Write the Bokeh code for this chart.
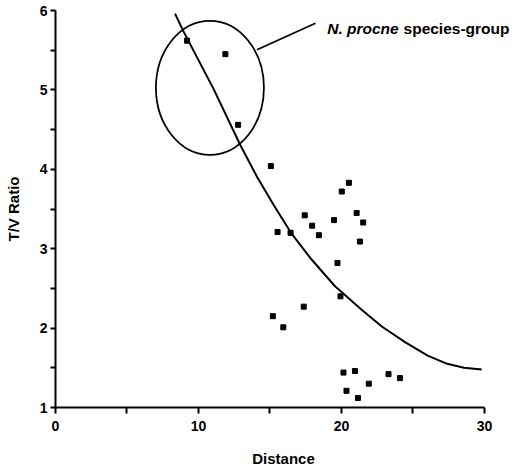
from bokeh.plotting import figure
from bokeh.models import FixedTicker, Label, Range1d, ColumnDataSource
from bokeh.embed import file_html
from bokeh.resources import INLINE

# ---- data ----
distance = [9.20, 11.88, 12.77, 15.06, 20.52, 20.02, 17.43, 21.06, 17.95,
            19.48, 21.52, 15.53, 16.44, 18.42, 21.29, 19.72, 19.93, 17.36,
            15.20, 15.93, 20.14, 20.94, 23.29, 24.09, 21.91, 20.35, 21.15]
tv_ratio = [5.62, 5.45, 4.56, 4.04, 3.83, 3.72, 3.42, 3.45, 3.29,
            3.36, 3.33, 3.21, 3.20, 3.17, 3.09, 2.82, 2.40, 2.27,
            2.15, 2.01, 1.44, 1.46, 1.42, 1.37, 1.30, 1.21, 1.12]

# fitted curve
curve_x = [8.36, 8.94, 11.06, 12.94, 14.11, 15.29, 16.47, 17.88, 19.53,
           21.41, 22.82, 24.47, 26.06, 27.40, 28.56, 29.81]
curve_y = [5.96, 5.74, 5.01, 4.30, 3.90, 3.54, 3.20, 2.87, 2.53,
           2.23, 2.02, 1.82, 1.65, 1.55, 1.50, 1.48]

x_major = [0, 10, 20, 30]
x_minor = [5, 15, 25]
y_major = [1, 2, 3, 4, 5, 6]
y_minor = [1.5, 2.5, 3.5, 4.5, 5.5]

# annotation (N. procne species-group)
group_center = (10.80, 5.026)
leader_x = [14.09, 18.18]
leader_y = [5.505, 5.84]

FONT = "Liberation Sans"

# the frame runs a little past 30 so the annotation text is not clipped;
# the x axis line itself stops at 30 (bounds)
p = figure(width=511, height=467,
           x_range=Range1d(0, 31.89), y_range=Range1d(1, 6),
           output_backend="svg", toolbar_location=None,
           min_border_left=55, min_border_right=0,
           min_border_top=8, min_border_bottom=62)
p.styles = {"position": "absolute", "left": "0px", "top": "2px"}
p.outline_line_color = None
p.xgrid.visible = False
p.ygrid.visible = False
p.background_fill_color = "white"
p.border_fill_color = "white"

p.xaxis.ticker = FixedTicker(ticks=x_major, minor_ticks=x_minor)
p.yaxis.ticker = FixedTicker(ticks=y_major, minor_ticks=y_minor)
p.xaxis.bounds = (0, 30)

for ax in (p.xaxis, p.yaxis):
    ax.axis_line_width = 2
    ax.axis_line_color = "black"
    ax.major_tick_line_width = 2
    ax.minor_tick_line_width = 2
    ax.major_tick_line_color = "black"
    ax.minor_tick_line_color = "black"
    ax.major_tick_in = 0
    ax.minor_tick_in = 0
    ax.major_label_text_font = FONT
    ax.major_label_text_font_size = "14px"
    ax.major_label_text_font_style = "bold"
    ax.major_label_text_color = "black"
    ax.axis_label_text_font = FONT
    ax.axis_label_text_font_size = "15px"
    ax.axis_label_text_font_style = "bold"
    ax.axis_label_text_color = "black"

p.xaxis.major_tick_out = 6
p.xaxis.minor_tick_out = 6
p.xaxis.major_label_standoff = 7
p.xaxis.axis_label = "Distance"
p.xaxis.axis_label_standoff = 16

p.yaxis.major_tick_out = 5
p.yaxis.minor_tick_out = 5
p.yaxis.major_label_standoff = 3
p.yaxis.axis_label = "T/V Ratio"
p.yaxis.axis_label_standoff = 15

src = ColumnDataSource(dict(x=distance, y=tv_ratio))
p.line(curve_x, curve_y, line_color="black", line_width=2)
p.scatter("x", "y", source=src, marker="square", size=5,
          fill_color="black", line_color="black")

p.ellipse(x=[group_center[0]], y=[group_center[1]], width=108, height=134,
          width_units="screen", height_units="screen",
          fill_color=None, line_color="black", line_width=1.8)
p.line(leader_x, leader_y, line_color="black", line_width=1.8)

p.add_layout(Label(x=19.0, y=5.77, text="N.  procne", text_font=FONT,
                   text_font_style="bold italic", text_font_size="15.5px",
                   text_baseline="alphabetic", text_color="black"))
p.add_layout(Label(x=24.34, y=5.77, text="species-group", text_font=FONT,
                   text_font_style="bold", text_font_size="15.5px",
                   text_baseline="alphabetic", text_color="black"))

# the x-axis label stays centred under 0..30, not under the wider frame
p.xaxis.axis_label_align = "center"

open("out.html", "w").write(file_html(p, INLINE))
